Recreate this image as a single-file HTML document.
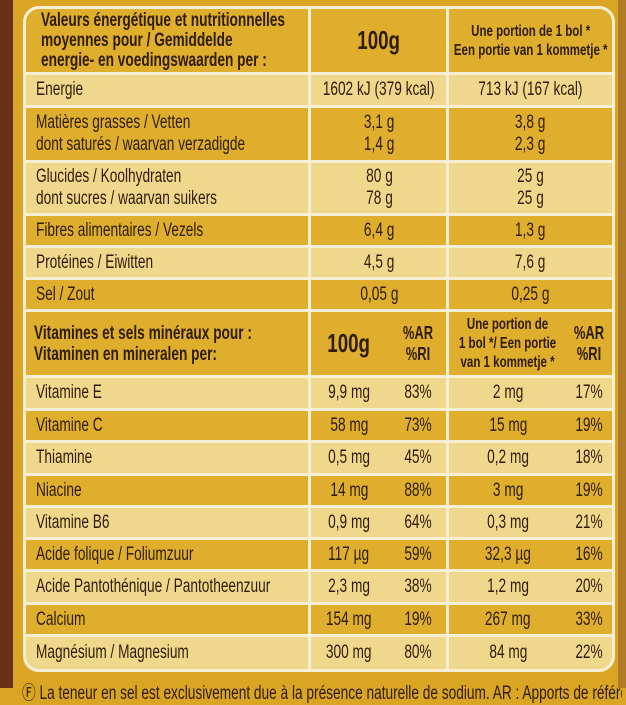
<!DOCTYPE html>
<html><head><meta charset="utf-8">
<style>
*{margin:0;padding:0;box-sizing:border-box}
body{width:626px;height:688px;overflow:hidden;background:#d9a522;position:relative;font-family:"Liberation Sans",sans-serif;color:#2f1c0a}
#brown{position:absolute;left:0;top:0;width:13px;height:688px;background:#6a2f17}
#brownr{position:absolute;right:0;top:0;width:8px;height:688px;background:#b07a26}
#tbl{position:absolute;left:23px;top:6px;width:592px;height:666px;border:3px solid #f6efd6;border-radius:16px;overflow:hidden;background:#f6efd6}
.r{position:absolute;left:0;width:586px}
.d{background:#deae2c}
.l{background:#efd88c}
.c{position:absolute;top:0;height:100%;display:flex;align-items:center;justify-content:center;font-size:19px;white-space:nowrap}
.c>span{display:inline-block;transform:scaleX(.72);transform-origin:center}
.c.lt{justify-content:flex-start}
.c.lt>span{transform-origin:left center}
.b{font-weight:bold}
.vl{position:absolute;top:0;width:3px;height:100%;background:#f6efd6}
#foot{position:absolute;left:22px;top:678px;width:600px;overflow:hidden;font-size:19px;color:#2f1c0a;white-space:nowrap}
#foot>span{display:inline-block;transform:scaleX(.72);transform-origin:left center}
</style></head><body>
<div id="brown"></div>
<div id="brownr"></div>
<div id="tbl">
<div class="r d" style="top:0;height:63px">
 <div class="c b lt" style="left:15px;font-size:19px;line-height:20px"><span>Valeurs énergétique et nutritionnelles<br>moyennes pour / Gemiddelde<br>energie- en voedingswaarden per :</span></div>
 <div class="c b" style="left:284px;width:138px;font-size:26px"><span>100g</span></div>
 <div class="c b" style="left:423px;width:163px;text-align:center;font-size:16px;line-height:19px"><span>Une portion de 1 bol *<br>Een portie van 1 kommetje *</span></div>
</div>
<div class="r l" style="top:66px;height:30px"><div class="c lt" style="left:10px"><span>Energie</span></div><div class="c" style="left:284px;width:138px"><span>1602 kJ (379 kcal)</span></div><div class="c" style="left:423px;width:163px"><span>713 kJ (167 kcal)</span></div></div>
<div class="r d" style="top:99px;height:52px"><div class="c lt" style="left:10px;line-height:22px"><span>Matières grasses / Vetten<br>dont saturés / waarvan verzadigde</span></div><div class="c" style="left:284px;width:138px;text-align:center;line-height:22px"><span>3,1 g<br>1,4 g</span></div><div class="c" style="left:423px;width:163px;text-align:center;line-height:22px"><span>3,8 g<br>2,3 g</span></div></div>
<div class="r l" style="top:154px;height:50px"><div class="c lt" style="left:10px;line-height:22px"><span>Glucides / Koolhydraten<br>dont sucres / waarvan suikers</span></div><div class="c" style="left:284px;width:138px;text-align:center;line-height:22px"><span>80 g<br>78 g</span></div><div class="c" style="left:423px;width:163px;text-align:center;line-height:22px"><span>25 g<br>25 g</span></div></div>
<div class="r d" style="top:207px;height:29px"><div class="c lt" style="left:10px"><span>Fibres alimentaires / Vezels</span></div><div class="c" style="left:284px;width:138px"><span>6,4 g</span></div><div class="c" style="left:423px;width:163px"><span>1,3 g</span></div></div>
<div class="r l" style="top:239px;height:29px"><div class="c lt" style="left:10px"><span>Protéines / Eiwitten</span></div><div class="c" style="left:284px;width:138px"><span>4,5 g</span></div><div class="c" style="left:423px;width:163px"><span>7,6 g</span></div></div>
<div class="r d" style="top:271px;height:29px"><div class="c lt" style="left:10px"><span>Sel / Zout</span></div><div class="c" style="left:284px;width:138px"><span>0,05 g</span></div><div class="c" style="left:423px;width:163px"><span>0,25 g</span></div></div>
<div class="r d" style="top:303px;height:63px">
 <div class="c b lt" style="left:8px;font-size:19px;line-height:21px"><span>Vitamines et sels minéraux pour :<br>Vitaminen en mineralen per:</span></div>
 <div class="c b" style="left:284px;width:78px;font-size:26px"><span>100g</span></div>
 <div class="c b" style="left:362px;width:60px;text-align:center;font-size:18px;line-height:21px"><span>%AR<br>%RI</span></div>
 <div class="c b" style="left:423px;width:118px;text-align:center;font-size:16px;line-height:19px"><span>Une portion de<br>1 bol */ Een portie<br>van 1 kommetje *</span></div>
 <div class="c b" style="left:541px;width:45px;text-align:center;font-size:18px;line-height:21px"><span>%AR<br>%RI</span></div>
</div>
<div id="vrows"></div>
<div class="vl" style="left:282px"></div>
<div class="vl" style="left:420px"></div>
</div>
<div id="foot"><span>Ⓕ La teneur en sel est exclusivement due à la présence naturelle de sodium. AR : Apports de référence</span></div>
<script>
const names=["Vitamine E","Vitamine C","Thiamine","Niacine","Vitamine B6","Acide folique / Foliumzuur","Acide Pantothénique / Pantotheenzuur","Calcium","Magnésium / Magnesium"];
const per100=["9,9 mg","58 mg","0,5 mg","14 mg","0,9 mg","117 µg","2,3 mg","154 mg","300 mg"];
const ar100=["83%","73%","45%","88%","64%","59%","38%","19%","80%"];
const portion=["2 mg","15 mg","0,2 mg","3 mg","0,3 mg","32,3 µg","1,2 mg","267 mg","84 mg"];
const arPortion=["17%","19%","18%","19%","21%","16%","20%","33%","22%"];
const tops=[369,402,434,467,499,531,563,596,628];
const c=document.getElementById('vrows');
names.forEach((n,i)=>{
 const r=document.createElement('div');
 r.className='r '+(i%2?'d':'l');
 r.style.top=tops[i]+'px';r.style.height=(i<8?tops[i+1]-tops[i]-3:32)+'px';
 
 
 r.innerHTML='<div class="c lt" style="left:10px"><span>'+n+'</span></div>'+
 '<div class="c" style="left:284px;width:78px"><span>'+per100[i]+'</span></div>'+
 '<div class="c" style="left:362px;width:60px"><span>'+ar100[i]+'</span></div>'+
 '<div class="c" style="left:423px;width:118px"><span>'+portion[i]+'</span></div>'+
 '<div class="c" style="left:541px;width:45px"><span>'+arPortion[i]+'</span></div>';
 c.appendChild(r);
});
</script>
</body></html>
